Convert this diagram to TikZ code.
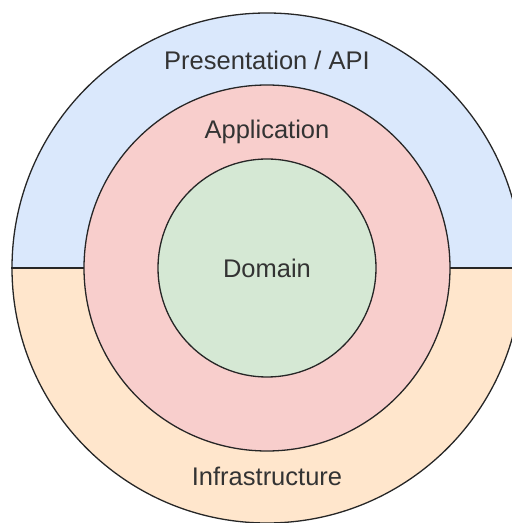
\documentclass[tikz,border=0pt]{standalone}
\usepackage{fontspec}
\setmainfont{Liberation Sans}
\usetikzlibrary{positioning}
\definecolor{apiblue}{HTML}{DAE8FC}
\definecolor{infraorange}{HTML}{FFE6CC}
\definecolor{appred}{HTML}{F8CECC}
\definecolor{domgreen}{HTML}{D5E8D4}
\definecolor{labelgray}{HTML}{333333}

\begin{document}
\begin{tikzpicture}[x=1pt, y=1pt,
    layer/.style={circle, draw=black!85, line width=1.3pt, inner sep=0pt},
    lbl/.style={text=labelgray, font=\fontsize{25.5}{30}\selectfont}]
  \useasboundingbox (0,0) rectangle (512,523);
  \clip (0,0) rectangle (512,523);
  \coordinate (c) at (267,255);
  % outer ring: upper half blue, lower half orange
  \node[layer, minimum size=510pt,
        path picture={
          \fill[apiblue] (path picture bounding box.north west) rectangle (path picture bounding box.east);
          \fill[infraorange] (path picture bounding box.west) rectangle (path picture bounding box.south east);
        }] (api) at (c) {};
  \draw[line width=1.3pt, black!85] (api.west) -- (api.east);
  \node[layer, fill=appred, minimum size=366pt] (app) at (c) {};
  \node[layer, fill=domgreen, minimum size=218pt, lbl] (dom) at (c) {Domain};
  % layer names
  \node[lbl] (apilbl) at (267,463) {Presentation / API};
  \node[lbl] (applbl) at (267,391) {Application};
  \node[lbl] (infralbl) at (267,47) {Infrastructure};
\end{tikzpicture}
\end{document}
